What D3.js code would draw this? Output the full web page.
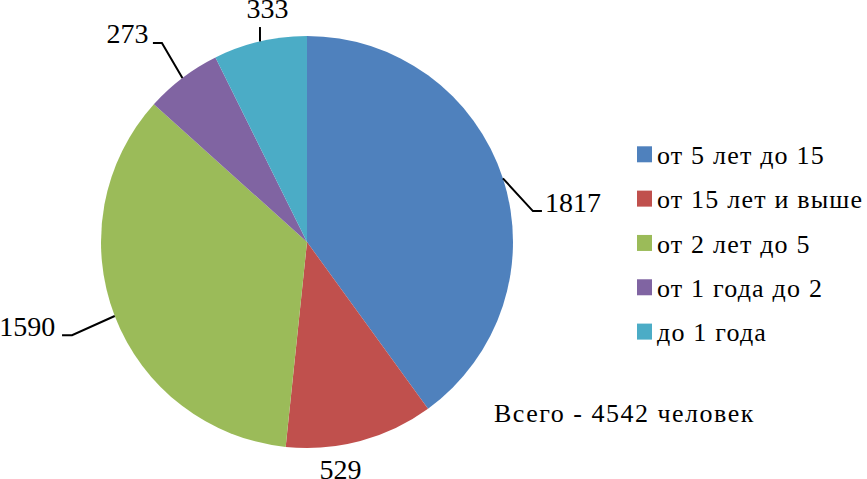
<!DOCTYPE html>
<html><head><meta charset="utf-8">
<script src="https://cdn.jsdelivr.net/npm/d3@7"></script>
<style>body{margin:0;background:#fff}svg{display:block}</style>
</head><body>
<svg id="c" width="867" height="479"></svg>
<script>
const categories = ["от 5 лет до 15", "от 15 лет и выше", "от 2 лет до 5", "от 1 года до 2", "до 1 года"];
const values = [1817, 529, 1590, 273, 333];
const colors = ["#4F81BD", "#C0504D", "#9BBB59", "#8064A2", "#4BACC6"];
const totalLabel = "Всего - 4542 человек";

const FONT = "'Liberation Serif', 'Tinos', 'Times New Roman', 'DejaVu Serif', serif";

// label layout: offsets relative to the slice's outer-edge mid point
const labelLayout = [
  {line: [[30, 32.7], [39, 32.7]], text: [42, 33.5], anchor: "start"},
  {line: null, text: [-20, 38.5], anchor: "middle"},
  {line: [[-42.7, 19.2], [-52.7, 19.2]], text: [-59.5, 20], anchor: "end"},
  {line: [[-20.5, -35], [-29.5, -35]], text: [-34, -35], anchor: "end"},
  {line: [[0, -14.4]], text: [7.5, -23.5], anchor: "middle"}
];

const svg = d3.select("#c");
const cx = 307, cy = 242, r = 206;
const color = d3.scaleOrdinal().domain(categories).range(colors);
const pie = d3.pie().sort(null).value(d => d.v);
const data = categories.map((c, i) => ({c, v: values[i]}));
const arcs = pie(data);
const arc = d3.arc().innerRadius(0).outerRadius(r);
const edge = d3.arc().innerRadius(r).outerRadius(r);

const g = svg.append("g").attr("transform", `translate(${cx},${cy})`);
g.selectAll("path.s").data(arcs).join("path").attr("class", "s")
  .attr("d", arc).attr("fill", d => color(d.data.c));

arcs.forEach((a, i) => {
  const [ex, ey] = edge.centroid(a);
  const L = labelLayout[i];
  if (L.line) {
    const pts = [[ex, ey]].concat(L.line.map(p => [ex + p[0], ey + p[1]]));
    g.append("path").attr("d", d3.line()(pts)).attr("fill", "none")
      .attr("stroke", "#000").attr("stroke-width", 2);
  }
  g.append("text").attr("x", ex + L.text[0]).attr("y", ey + L.text[1])
    .attr("text-anchor", L.anchor).attr("font-family", FONT).attr("font-size", 28)
    .attr("fill", "#000").text(d3.format("d")(a.data.v));
});

// legend
const legY = d3.scalePoint().domain(categories).range([154.3, 331.6]);
const leg = svg.append("g");
categories.forEach(c => {
  leg.append("rect").attr("x", 637).attr("y", legY(c) - 8).attr("width", 15).attr("height", 16)
    .attr("fill", color(c));
  leg.append("text").attr("x", 657).attr("y", legY(c) + 9.8).attr("font-family", FONT)
    .attr("font-size", 26).attr("letter-spacing", 1.2).attr("fill", "#000").text(c);
});

svg.append("text").attr("x", 494).attr("y", 422.3).attr("font-family", FONT)
  .attr("font-size", 26).attr("letter-spacing", 1.5).attr("fill", "#000").text(totalLabel);
</script>
</body></html>
